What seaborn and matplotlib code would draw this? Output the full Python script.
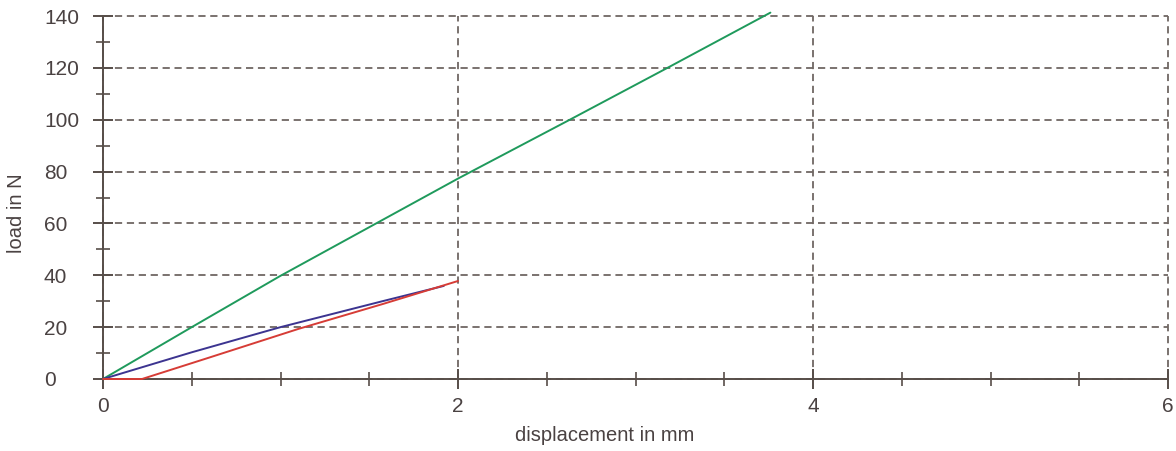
import numpy as np
import pandas as pd
import matplotlib
matplotlib.use("Agg")
import matplotlib.pyplot as plt
import seaborn as sns

# data
green_x = [0.0, 0.5, 1.0, 2.0, 2.63, 3.18, 3.76]
green_y = [0.0, 20.0, 39.8, 77.3, 100.0, 120.0, 141.3]
blue_x = [0.0, 0.5, 1.0, 1.58, 1.92]
blue_y = [0.0, 10.3, 20.0, 30.1, 35.9]
red_x = [0.0, 0.22, 0.6, 1.10, 1.58, 2.0]
red_y = [0.0, 0.0, 8.3, 19.3, 29.0, 37.8]

x_ticks = [0, 2, 4, 6]
y_ticks = [0, 20, 40, 60, 80, 100, 120, 140]

sns.set_style("white")
plt.rcParams['font.family'] = ['Liberation Sans', 'DejaVu Sans']

text_c = "#4a4242"
axis_c = "#574e49"
grid_c = "#706763"

frames = []
for name, xs, ys in [("green", green_x, green_y), ("blue", blue_x, blue_y), ("red", red_x, red_y)]:
    frames.append(pd.DataFrame({"x": xs, "y": ys, "s": name}))
df = pd.concat(frames, ignore_index=True)

fig = plt.figure(figsize=(11.76, 4.51), dpi=100)
ax = fig.add_axes([103/1176, 72/451, 1065/1176, 363/451])

sns.lineplot(data=df, x="x", y="y", hue="s", estimator=None, sort=False,
             palette={"green": "#1f9a5c", "blue": "#3c3490", "red": "#d63c36"},
             linewidth=1.4, legend=False, ax=ax, zorder=3)
for ln in ax.get_lines():
    ln.set_clip_on(False)

ax.set_xlim(0, 6)
ax.set_ylim(0, 140)
ax.set_xticks(x_ticks)
ax.set_yticks(y_ticks)
ax.set_xticks(np.arange(0, 6.01, 0.5), minor=True)
ax.set_yticks(np.arange(0, 140.1, 10), minor=True)

ax.grid(True, which="major", color=grid_c, linestyle=(0, (4, 2.6)), linewidth=1.3, zorder=1)
ax.set_axisbelow(True)
for gl in ax.get_xgridlines() + ax.get_ygridlines():
    gl.set_clip_on(False)

for s in ["top", "right"]:
    ax.spines[s].set_visible(False)
for s in ["left", "bottom"]:
    ax.spines[s].set_color(axis_c)
    ax.spines[s].set_linewidth(1.4)

ax.tick_params(axis="both", which="both", bottom=True, left=True, top=False, right=False)
ax.tick_params(axis="both", which="major", direction="inout", length=14, width=1.4,
               color=axis_c, labelcolor=text_c, labelsize=15)
ax.tick_params(axis="both", which="minor", direction="inout", length=10, width=1.2,
               color=axis_c)
ax.tick_params(axis="x", which="major", pad=6)
ax.tick_params(axis="y", which="major", pad=35.5)
for lab in ax.get_yticklabels():
    lab.set_horizontalalignment("left")

ax.set_xlabel("displacement in mm", fontsize=14.5, color=text_c)
ax.set_ylabel("load in N", fontsize=14.5, color=text_c)
ax.xaxis.set_label_coords(0.471, -0.129)
ax.yaxis.set_label_coords(-0.072, 0.457)

fig.savefig("out.png", dpi=100)
